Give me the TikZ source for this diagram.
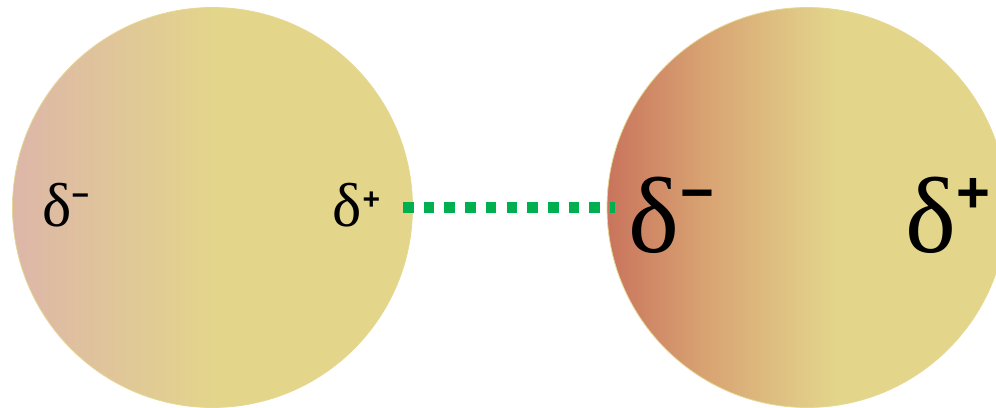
\documentclass[tikz,border=0pt]{standalone}
\usepackage{fontspec}
\setmainfont{Liberation Serif}
\newfontfamily\signfont{Liberation Sans}
\definecolor{yel}{HTML}{E3D68A}
\definecolor{pinkL}{HTML}{DDB6A8}
\definecolor{redR}{HTML}{C9745C}
\definecolor{orR}{HTML}{D8A272}
\definecolor{tanR}{HTML}{E0C886}
\definecolor{grn}{HTML}{00B050}
\definecolor{rim}{HTML}{E6D894}
\pgfdeclarehorizontalshading{leftatom}{100bp}{color(0bp)=(pinkL); color(25bp)=(pinkL); color(51bp)=(yel); color(100bp)=(yel)}
\pgfdeclarehorizontalshading{rightatom}{100bp}{color(0bp)=(redR); color(25bp)=(redR); color(37bp)=(orR); color(49bp)=(tanR); color(54bp)=(yel); color(100bp)=(yel)}
\tikzset{
  atom/.style={circle, inner sep=0pt, minimum size=200pt, draw=rim, line width=0.4pt},
  lbl/.style={anchor=base west, inner sep=0pt, text=black},
  hbond/.style={draw=grn, line width=5.5pt, dash pattern=on 5.3pt off 5.05pt}
}
\begin{document}
\begin{tikzpicture}[x=0.5pt,y=-0.5pt]
\useasboundingbox (0,0) rectangle (996,407);
\clip (0,0) rectangle (996,407);
\node[atom, shading=leftatom] (A) at (212.5,207.5) {};
\node[atom, shading=rightatom] (B) at (807,207.5) {};
\coordinate (s) at (403,207.8);
\coordinate (e) at (615,207.8);
\draw[hbond] (s) -- (e);
\node[lbl, font=\fontsize{31pt}{31pt}\selectfont] (l1) at (42,226) {δ\raisebox{10.5pt}{\signfont\fontsize{15pt}{15pt}\selectfont\bfseries −}};
\node[lbl, font=\fontsize{31pt}{31pt}\selectfont] (l2) at (332,226) {δ\hspace{0.5pt}\raisebox{8.25pt}{\signfont\fontsize{15pt}{15pt}\selectfont\bfseries +}};
\node[lbl, font=\fontsize{54pt}{54pt}\selectfont] (l3) at (628,252) {δ\hspace{0.5pt}\raisebox{20pt}{\signfont\fontsize{29pt}{29pt}\selectfont\bfseries −}};
\node[lbl, font=\fontsize{54pt}{54pt}\selectfont] (l4) at (905,252) {δ\raisebox{20pt}{\signfont\fontsize{29pt}{29pt}\selectfont\bfseries +}};
\end{tikzpicture}
\end{document}
